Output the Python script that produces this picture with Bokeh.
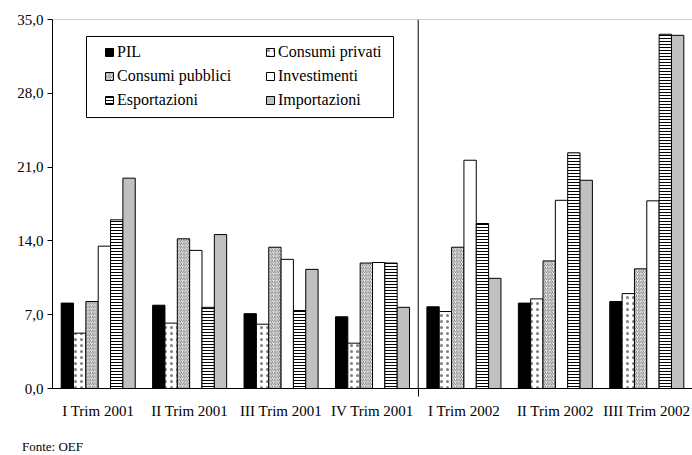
from bokeh.plotting import figure
from bokeh.models import (ColumnDataSource, Range1d, FixedTicker, Span, Legend, LegendItem, Div,
                          BoxAnnotation)
from bokeh.layouts import column
from bokeh.transform import dodge
from bokeh.embed import file_html
from bokeh.resources import INLINE

categories = ["I Trim 2001", "II Trim 2001", "III Trim 2001", "IV Trim 2001",
              "I Trim 2002", "II Trim 2002", "IIII Trim 2002"]
pil = [8.1, 7.9, 7.1, 6.8, 7.75, 8.1, 8.25]
consumi_privati = [5.25, 6.2, 6.1, 4.3, 7.3, 8.5, 9.0]
consumi_pubblici = [8.25, 14.2, 13.4, 11.9, 13.4, 12.1, 11.35]
investimenti = [13.5, 13.1, 12.25, 11.95, 21.65, 17.85, 17.8]
esportazioni = [16.0, 7.7, 7.4, 11.9, 15.65, 22.35, 33.6]
importazioni = [19.95, 14.6, 11.3, 7.7, 10.45, 19.75, 33.5]
series_names = ["PIL", "Consumi privati", "Consumi pubblici", "Investimenti",
                "Esportazioni", "Importazioni"]
y_ticks = [0, 7, 14, 21, 28, 35]
y_labels = ["0,0", "7,0", "14,0", "21,0", "28,0", "35,0"]
source_note = "Fonte: OEF"

FONT = "Times New Roman"

xc = [i + 0.5 for i in range(len(categories))]
source = ColumnDataSource(dict(xc=xc, pil=pil, cpriv=consumi_privati, cpub=consumi_pubblici,
                               inv=investimenti, esp=esportazioni, imp=importazioni))

p = figure(width=692, height=437, output_backend="svg", toolbar_location=None,
           x_range=Range1d(0, len(categories)), y_range=Range1d(0, 35),
           min_border_left=52, min_border_right=0, min_border_top=19, min_border_bottom=49)
p.outline_line_color = None
p.grid.visible = False
p.background_fill_color = "white"
p.border_fill_color = "white"

W = 0.135
styles = [
    dict(fill_color="black"),
    dict(fill_color="white", hatch_pattern="dot", hatch_color="black", hatch_scale=6,
         hatch_weight=0.3, hatch_alpha=0.5),
    dict(fill_color="white", hatch_pattern="right_diagonal_line", hatch_color="#555555", hatch_scale=3.5, hatch_weight=0.8),
    dict(fill_color="white"),
    dict(fill_color="white", hatch_pattern="horizontal_line", hatch_color="black", hatch_scale=3, hatch_weight=1),
    dict(fill_color="#c0c0c0"),
]
cols = ["pil", "cpriv", "cpub", "inv", "esp", "imp"]
renderers = []
for k, (c, st) in enumerate(zip(cols, styles)):
    r = p.vbar(x=dodge("xc", (k - 2.5) * W, range=p.x_range), top=c, width=W, source=source,
               line_color="black", line_width=1, **st)
    renderers.append(r)

# top border and separator
p.add_layout(Span(location=35, dimension="width", line_color="#a0a0a0", line_width=1))
p.add_layout(Span(location=4, dimension="height", line_color="black", line_width=1))

# axes
p.yaxis.ticker = FixedTicker(ticks=y_ticks)
p.yaxis.major_label_overrides = {t: l for t, l in zip(y_ticks, y_labels)}
p.yaxis.major_tick_out = 5
p.yaxis.major_tick_in = 0
p.yaxis.minor_tick_line_color = None
p.yaxis.axis_line_color = "black"
p.yaxis.major_label_text_font = FONT
p.yaxis.major_label_text_font_size = "15px"
p.yaxis.major_label_text_color = "black"
p.yaxis.major_label_standoff = 4

p.xaxis.ticker = FixedTicker(ticks=xc, minor_ticks=[4])
p.xaxis.major_label_overrides = {x: c for x, c in zip(xc, categories)}
p.xaxis.major_tick_line_color = None
p.xaxis.major_tick_out = 0
p.xaxis.minor_tick_out = 8
p.xaxis.minor_tick_in = 0
p.xaxis.minor_tick_line_color = "black"
p.xaxis.axis_line_color = "black"
p.xaxis.major_label_text_font = FONT
p.xaxis.major_label_text_font_size = "15px"
p.xaxis.major_label_text_color = "black"
p.xaxis.major_label_standoff = 6

# legend frame
p.add_layout(BoxAnnotation(left=0.372, right=3.73, top=33.39, bottom=25.70,
                           fill_color="white", fill_alpha=1, line_color="black", line_width=1,
                           line_alpha=1))

leg_kw = dict(glyph_width=10, glyph_height=10, label_standoff=3, spacing=4, padding=0, margin=0,
              border_line_color=None, background_fill_alpha=0, label_text_font=FONT,
              label_text_font_size="16px", label_text_color="black", label_height=20)
left_col = [0, 2, 4]
right_col = [1, 3, 5]
leg1 = Legend(items=[LegendItem(label=series_names[i], renderers=[renderers[i]]) for i in left_col],
              location=(52, 278), **leg_kw)
leg2 = Legend(items=[LegendItem(label=series_names[i], renderers=[renderers[i]]) for i in right_col],
              location=(213, 278), **leg_kw)
p.add_layout(leg1)
p.add_layout(leg2)

note = Div(text=source_note, width=692, height=18, margin=0,
           styles={"font-family": FONT, "font-size": "13px", "color": "black",
                   "padding-left": "22px", "line-height": "20px", "background": "white"})

layout = column(p, note, spacing=0)
open("out.html", "w").write(file_html(layout, INLINE))
